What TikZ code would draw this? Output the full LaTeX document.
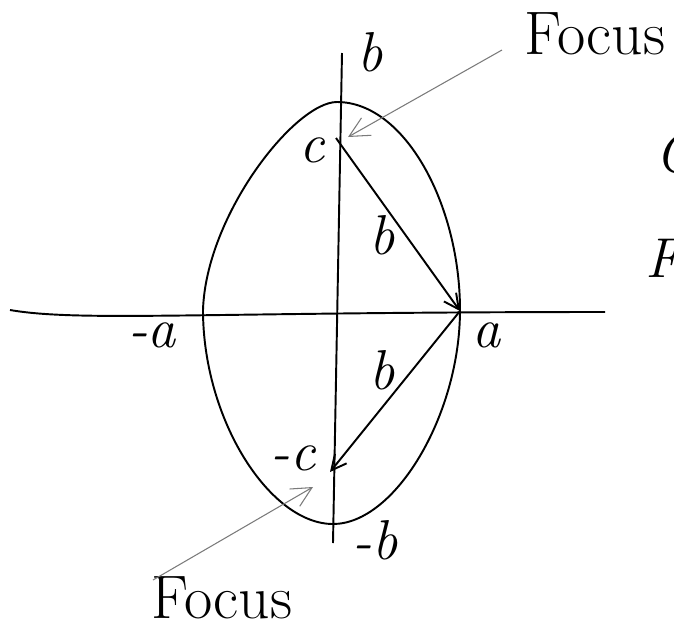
\documentclass[tikz,border=0pt]{standalone}
\usepackage{xcolor}
\usepackage{tikz}
\usetikzlibrary{arrows.meta, positioning}
\definecolor{pencil}{HTML}{7A7A7A}

\begin{document}
\begin{tikzpicture}[
  x=0.02cm, y=-0.02cm,
  ink/.style={line width=1.1pt, black},
  lbl/.style={font=\fontsize{32}{36}\selectfont\itshape, inner sep=0pt},
  word/.style={font=\fontsize{35}{40}\selectfont, inner sep=0pt},
  pointer/.style={line width=0.6pt, color=pencil, -{Straight Barb[length=4mm, width=4mm]}},
]
  \useasboundingbox (0,0) rectangle (674,630);

  % Axes
  \coordinate (xl) at (10,310);
  \coordinate (xr) at (605,312);
  \coordinate (yt) at (342,53);
  \coordinate (yb) at (333,543);
  \draw[ink] (xl) .. controls (80,322) and (200,312) .. (xr);
  \draw[ink] (yt) -- (yb);

  % Ellipse
  \draw[ink] (337,102) .. controls (405,102) and (460,205) .. (460,310)
    .. controls (460,415) and (395,524) .. (333,524)
    .. controls (270,524) and (203,420) .. (203,310)
    .. controls (206,215) and (295,102) .. (337,102) -- cycle;

  % Foci and vertex
  \coordinate (fc) at (336,138);
  \coordinate (fcm) at (330,472);
  \coordinate (va) at (460,311);
  \draw[ink, -{Straight Barb[length=3mm, width=3mm]}] (fc) -- (va);
  \draw[ink, -{Straight Barb[length=3mm, width=3mm]}] (va) -- (fcm);

  % Labels
  \node[lbl] (lb) at (370,52) {b};
  \node[lbl] (lc) at (312,150) {c};
  \node[lbl] (lbu) at (382,235) {b};
  \node[lbl] (lbd) at (382,370) {b};
  \node[lbl] (la) at (487,335) {a};
  \node[lbl] (lma) at (152,335) {-a};
  \node[lbl] (lmc) at (293,458) {-c};
  \node[lbl] (lmb) at (375,540) {-b};

  % Focus notes
  \node[word] (ftop) at (595,34) {Focus};
  \node[word] (fbot) at (222,598) {Focus};
  \coordinate (ptop) at (502,50);
  \coordinate (ttop) at (348,137);
  \coordinate (pbot) at (153,580);
  \coordinate (tbot) at (313,487);
  \draw[pointer] (ptop) -- (ttop);
  \draw[pointer] (pbot) -- (tbot);

  % Cut-off text at the edge
  \node[lbl, anchor=west] (ec) at (655,153) {C};
  \node[lbl, anchor=west] (ef) at (645,258) {F};

\end{tikzpicture}
\end{document}
